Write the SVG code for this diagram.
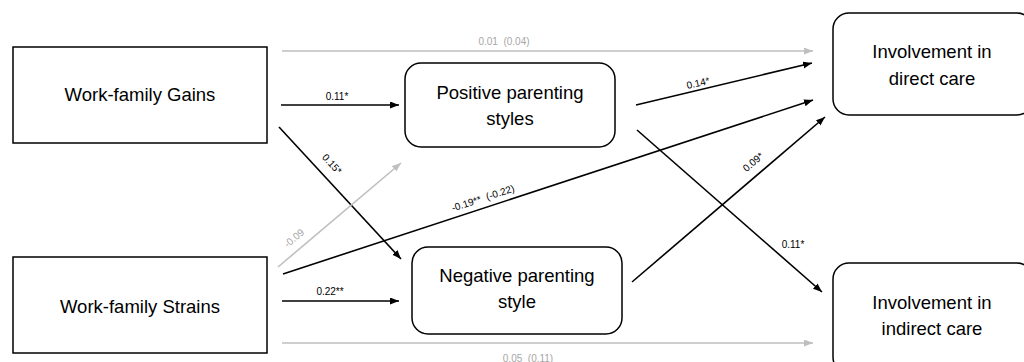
<svg xmlns="http://www.w3.org/2000/svg" width="1024" height="362" viewBox="0 0 1024 362">
<style>
.box{fill:#fff;stroke:#000;stroke-width:1.5}
.nt{font-family:"Liberation Sans",Arial,sans-serif;font-size:18.5px;fill:#000;text-anchor:middle}
.lb{font-family:"Liberation Sans",Arial,sans-serif;font-size:10px;fill:#000;text-anchor:middle;white-space:pre}
.lg{font-family:"Liberation Sans",Arial,sans-serif;font-size:10px;fill:#a6a6a6;text-anchor:middle;white-space:pre}
.k{stroke:#000;stroke-width:1.6;fill:none;marker-end:url(#ak)}
.g{stroke:#bfbfbf;stroke-width:1.6;fill:none;marker-end:url(#ag)}
</style>
<defs>
<marker id="ak" markerUnits="userSpaceOnUse" markerWidth="10" markerHeight="8" refX="9" refY="3.5" orient="auto"><path d="M0,0 L9,3.5 L0,7 z" fill="#000"/></marker>
<marker id="ag" markerUnits="userSpaceOnUse" markerWidth="10" markerHeight="8" refX="9" refY="3.5" orient="auto"><path d="M0,0 L9,3.5 L0,7 z" fill="#bfbfbf"/></marker>
</defs>
<rect width="1024" height="362" fill="#fff"/>
<g id="connectors">
<line class="g" x1="282" y1="51" x2="813" y2="51"/>
<line class="k" x1="281" y1="105" x2="399" y2="105"/>
<line class="k" x1="279" y1="127" x2="401" y2="259"/>
<line class="g" x1="278" y1="267" x2="401" y2="163"/>
<line class="k" x1="283" y1="274" x2="813" y2="100"/>
<line class="k" x1="282" y1="301" x2="399" y2="301"/>
<line class="g" x1="282" y1="343" x2="813" y2="343"/>
<line class="k" x1="636" y1="105" x2="812" y2="63"/>
<line class="k" x1="637" y1="130" x2="822" y2="292"/>
<line class="k" x1="632" y1="282" x2="825" y2="117"/>
<text class="lg" x="504" y="45" xml:space="preserve">0.01  (0.04)</text>
<text class="lb" x="337" y="100">0.11*</text>
<text class="lb" transform="translate(332,164) rotate(47.3)" y="3.5">0.15*</text>
<text class="lg" transform="translate(294,238) rotate(-40.2)" y="3.5">-0.09</text>
<text class="lb" transform="translate(483,198) rotate(-18.1)" y="3.5" xml:space="preserve">-0.19**  (-0.22)</text>
<text class="lb" x="330" y="295">0.22**</text>
<text class="lg" x="528" y="362" xml:space="preserve">0.05  (0.11)</text>
<text class="lb" transform="translate(698,83) rotate(-13.4)" y="3.5">0.14*</text>
<text class="lb" transform="translate(753,162) rotate(-40.5)" y="3.5">0.09*</text>
<text class="lb" x="793" y="248">0.11*</text>
</g>
<g id="gains">
<rect class="box" x="13" y="47" width="254" height="96"/>
<text class="nt" x="140" y="101">Work-family Gains</text>
</g>
<g id="strains">
<rect class="box" x="13" y="257" width="254" height="96"/>
<text class="nt" x="140" y="313">Work-family Strains</text>
</g>
<g id="positive">
<rect class="box" x="405" y="63" width="210" height="84" rx="16"/>
<text class="nt" x="510" y="99">Positive parenting</text>
<text class="nt" x="510" y="125">styles</text>
</g>
<g id="negative">
<rect class="box" x="412" y="247" width="210" height="87" rx="16"/>
<text class="nt" x="517" y="282">Negative parenting</text>
<text class="nt" x="517" y="308">style</text>
</g>
<g id="direct">
<rect class="box" x="833" y="13" width="200" height="102" rx="16"/>
<text class="nt" x="932" y="58">Involvement in</text>
<text class="nt" x="932" y="85">direct care</text>
</g>
<g id="indirect">
<rect class="box" x="833" y="263" width="200" height="110" rx="16"/>
<text class="nt" x="932" y="309">Involvement in</text>
<text class="nt" x="932" y="335">indirect care</text>
</g>
</svg>
